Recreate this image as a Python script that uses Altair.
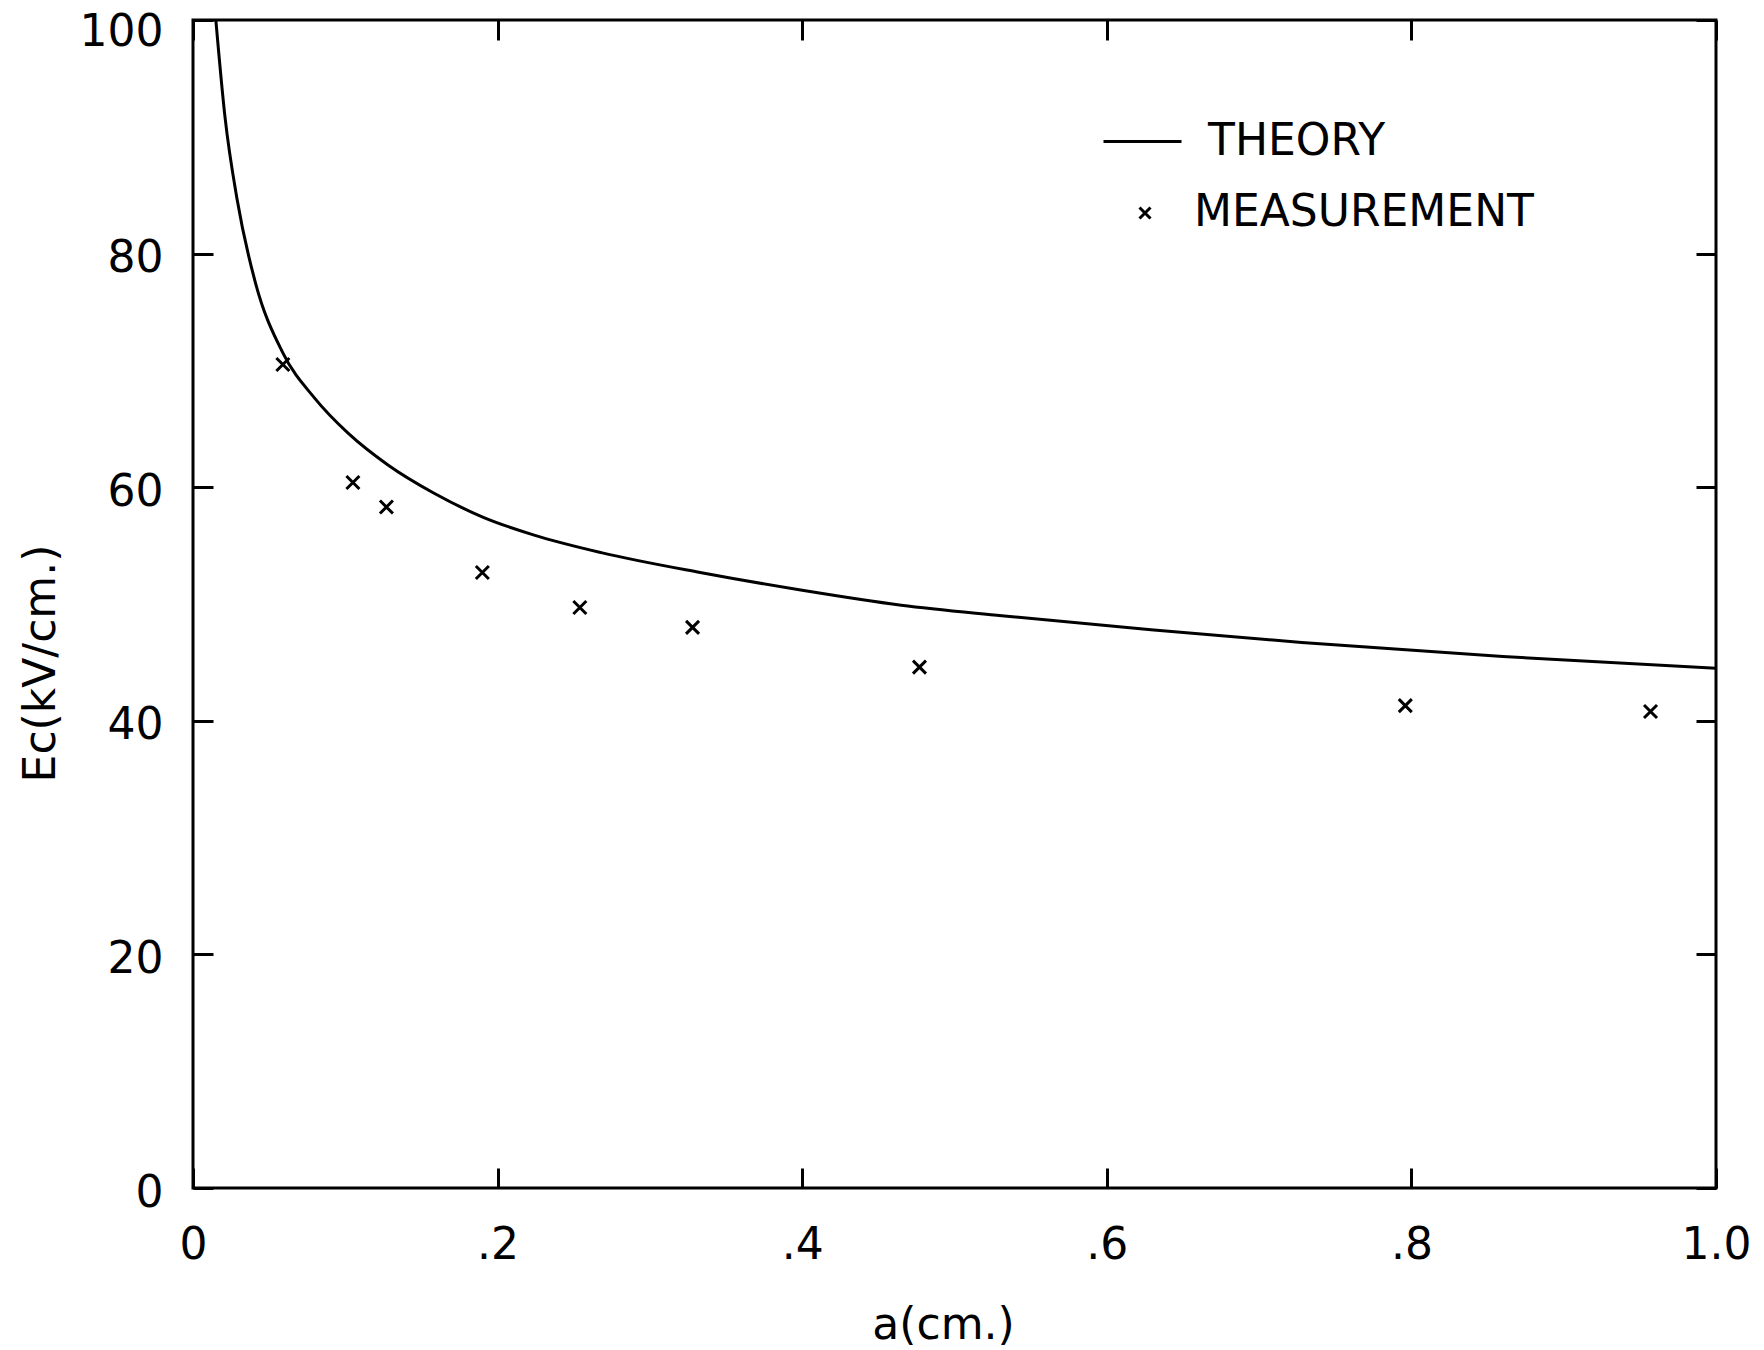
import altair as alt
import pandas as pd

# ---- data ----
theory_a = [0.015, 0.021, 0.029, 0.041, 0.059, 0.080, 0.102, 0.128, 0.158, 0.191,
            0.224, 0.268, 0.333, 0.399, 0.465, 0.531, 0.629, 0.728, 0.860, 1.0]
theory_e = [100.0, 91.7, 84.6, 77.5, 71.5, 67.6, 64.6, 61.9, 59.5, 57.4,
            55.9, 54.4, 52.7, 51.2, 49.9, 49.0, 47.8, 46.7, 45.5, 44.5]

meas_a = [0.059, 0.105, 0.127, 0.190, 0.254, 0.328, 0.477, 0.796, 0.957]
meas_e = [70.5, 60.4, 58.3, 52.7, 49.7, 48.0, 44.6, 41.3, 40.8]

x_ticks = [0, 0.2, 0.4, 0.6, 0.8, 1.0]
x_tick_labels = ["0", ".2", ".4", ".6", ".8", "1.0"]
y_ticks = [0, 20, 40, 60, 80, 100]
y_tick_labels = ["0", "20", "40", "60", "80", "100"]

series_names = ["THEORY", "MEASUREMENT"]
x_title = "a(cm.)"
y_title = "Ec(kV/cm.)"

theory = pd.DataFrame({"a": theory_a, "E": theory_e, "series": series_names[0]})
meas = pd.DataFrame({"a": meas_a, "E": meas_e, "series": series_names[1]})


def label_expr(vals, labels):
    expr = "''"
    for v, l in reversed(list(zip(vals, labels))):
        expr = f"abs(datum.value - {v}) < 1e-6 ? '{l}' : ({expr})"
    return expr


FONT = "DejaVu Sans"
FS = 44
XPATH = "M-1,-1L1,1M-1,1L1,-1"

xscale = alt.Scale(domain=[0, 1], nice=False, zero=False)
yscale = alt.Scale(domain=[0, 100], nice=False, zero=False)

common = dict(grid=False, domain=False, tickSize=20, offset=-20, tickWidth=3,
              tickColor="black", labelFont=FONT, labelFontSize=FS, labelColor="black",
              titleFont=FONT, titleFontSize=FS, titleColor="black",
              titleFontWeight="normal", labelOverlap=False, labelFlush=False)

x_bottom = alt.Axis(orient="bottom", values=x_ticks, labelExpr=label_expr(x_ticks, x_tick_labels),
                    labelPadding=35, title=x_title, titlePadding=36, titleX=750, **common)
y_left = alt.Axis(orient="left", values=y_ticks, labelExpr=label_expr(y_ticks, y_tick_labels),
                  labelPadding=30,
                  labelOffset=alt.condition(f"datum.value == {y_ticks[-1]}", alt.value(12), alt.value(5)),
                  title=y_title, titlePadding=16, titleY=643,
                  **common)
x_top = alt.Axis(orient="top", values=x_ticks, labels=False, title="", **common)
y_right = alt.Axis(orient="right", values=y_ticks, labels=False, title="", **common)

line = alt.Chart(theory).mark_line(strokeWidth=3, interpolate="monotone", clip=True,
                                   color="black", opacity=1).encode(
    x=alt.X("a:Q", scale=xscale, axis=x_bottom),
    y=alt.Y("E:Q", scale=yscale, axis=y_left),
    color=alt.Color("series:N", scale=alt.Scale(domain=[series_names[0]], range=["black"]),
                    legend=alt.Legend(orient="none", legendX=909, legendY=81, title=None,
                                      symbolType="stroke", symbolSize=6084,
                                      symbolStrokeWidth=3, symbolOpacity=1,
                                      labelFont=FONT, labelFontSize=FS, labelLimit=0,
                                      labelColor="black", labelOffset=25, padding=0)),
)

points = alt.Chart(meas).mark_point(filled=False, color="black", strokeWidth=3, size=169,
                                    opacity=1).encode(
    x=alt.X("a:Q", scale=xscale, axis=x_top),
    y=alt.Y("E:Q", scale=yscale, axis=y_right),
    shape=alt.Shape("series:N", scale=alt.Scale(domain=[series_names[1]], range=[XPATH]),
                    legend=alt.Legend(orient="none", legendX=930, legendY=171, title=None,
                                      symbolSize=121, symbolStrokeWidth=3, symbolOpacity=1,
                                      symbolStrokeColor="black", symbolFillColor="black",
                                      labelFont=FONT, labelFontSize=FS, labelLimit=0,
                                      labelColor="black", labelOffset=27, padding=0)),
)

chart = alt.layer(line, points).resolve_axis(
    x="independent", y="independent"
).properties(
    width=1523, height=1168,
    autosize=alt.AutoSizeParams(type="none"),
    padding={"left": 193, "top": 20, "right": 48, "bottom": 162},
    background="white",
).configure_view(stroke="black", strokeWidth=3)

chart.save("out.html", embed_options={"renderer": "svg", "actions": False})
